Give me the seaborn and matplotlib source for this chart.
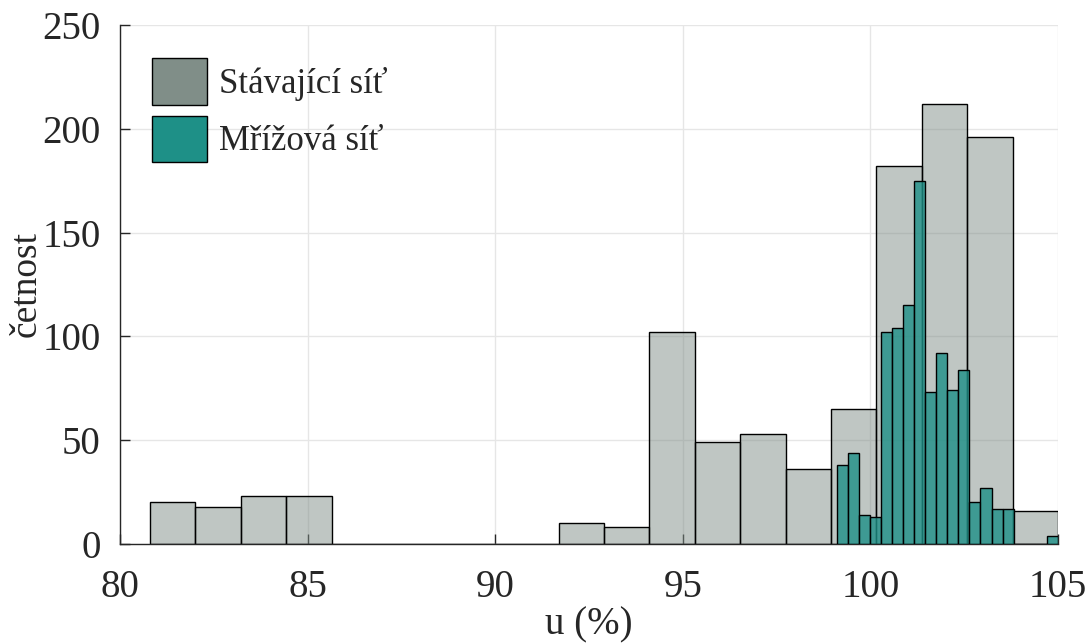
import numpy as np
import pandas as pd
import matplotlib
matplotlib.use("Agg")
import matplotlib.pyplot as plt
from matplotlib.patches import Patch
import seaborn as sns

# Data
gray_label = "Stávající síť"
teal_label = "Mřížová síť"
gray_start, gray_width = 80.8, 1.21
gray_counts = [20, 18, 23, 23, 0, 0, 0, 0, 0, 10, 8, 102, 49, 53, 36, 65, 182, 212, 196, 16]
teal_start, teal_width = 99.1, 0.295
teal_counts = [38, 44, 14, 13, 102, 104, 115, 175, 73, 92, 74, 84, 20, 27, 17, 17, 0, 0, 0, 4]
x_ticks = [80, 85, 90, 95, 100, 105]
y_ticks = [0, 50, 100, 150, 200, 250]

gray_edges = gray_start + gray_width * np.arange(len(gray_counts) + 1)
teal_edges = teal_start + teal_width * np.arange(len(teal_counts) + 1)
gray_df = pd.DataFrame({"u": (gray_edges[:-1] + gray_edges[1:]) / 2, "n": gray_counts})
teal_df = pd.DataFrame({"u": (teal_edges[:-1] + teal_edges[1:]) / 2, "n": teal_counts})

sns.set_style("white")
plt.rcParams['font.family'] = 'serif'
plt.rcParams['font.serif'] = ['Liberation Serif', 'Times New Roman', 'DejaVu Serif']
plt.rcParams['mathtext.fontset'] = 'stix'

fig = plt.figure(figsize=(10.9, 6.44), dpi=100)
ax = fig.add_axes([0.110, 0.1553, 0.8606, 0.8059])

gray_c = "#808e88"
teal_c = "#1e9087"
sns.histplot(data=gray_df, x="u", weights="n", bins=list(gray_edges), ax=ax,
             color=gray_c, alpha=0.5, edgecolor="black", linewidth=1.0, zorder=2)
sns.histplot(data=teal_df, x="u", weights="n", bins=list(teal_edges), ax=ax,
             color=teal_c, alpha=0.8, edgecolor="black", linewidth=1.0, zorder=3)

ax.set_xlim(80, 105)
ax.set_ylim(0, 250)
ax.set_xticks(x_ticks)
ax.set_yticks(y_ticks)
ax.grid(True, color="#e6e6e6", linewidth=1.0, zorder=0)
ax.set_axisbelow(True)
for s in ["top", "right"]:
    ax.spines[s].set_visible(False)
for s in ["left", "bottom"]:
    ax.spines[s].set_color("#262626")
    ax.spines[s].set_linewidth(1.0)
ax.tick_params(axis="both", direction="in", length=7, width=1, colors="#262626",
               labelsize=28, bottom=True, left=True)
ax.tick_params(axis="x", pad=18)
ax.tick_params(axis="y", pad=14)
ax.set_xlabel("u (%)", fontsize=28, color="#262626", labelpad=0.5)
ax.set_ylabel("četnost", fontsize=27, color="#262626")
ax.yaxis.set_label_coords(-0.081, 0.5)

handles = [Patch(facecolor=gray_c, edgecolor="black", label=gray_label),
           Patch(facecolor=teal_c, edgecolor="black", label=teal_label)]
leg = ax.legend(handles=handles, loc="upper left", bbox_to_anchor=(0.0341, 0.9364),
                frameon=False, fontsize=25, handlelength=1.58, handleheight=1.69,
                handletextpad=0.35, labelspacing=0.32, borderaxespad=0.0, borderpad=0.0)

fig.savefig("out.png", dpi=100)
